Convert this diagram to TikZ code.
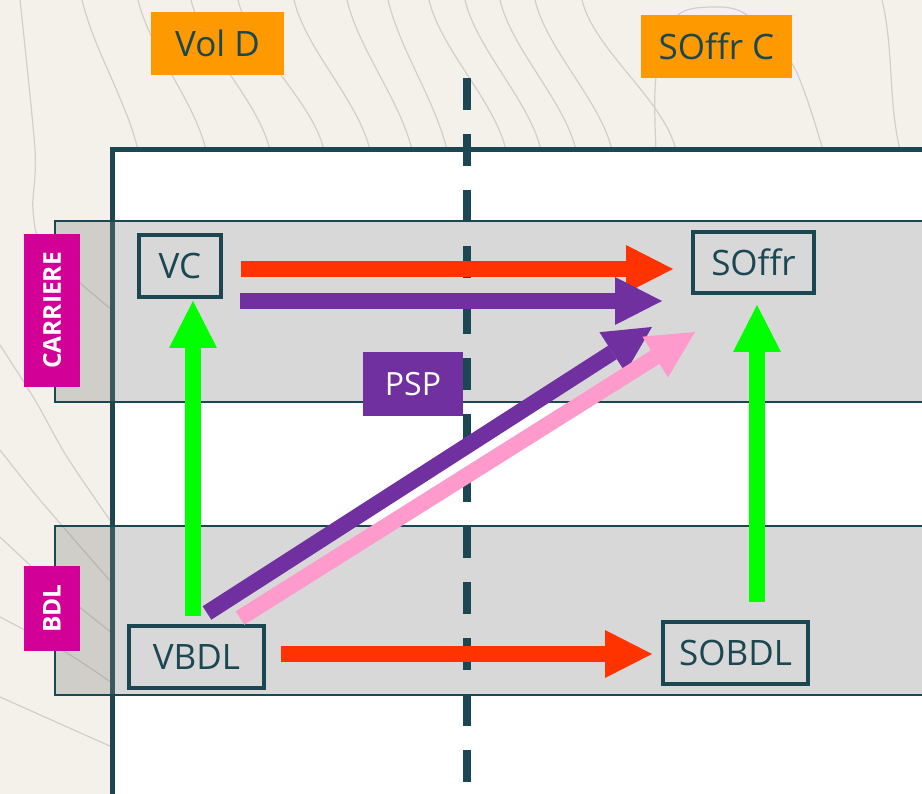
\documentclass[tikz,border=0pt]{standalone}
\usepackage{fontspec}
\setmainfont{Open Sans}
\usepackage{xcolor}
\usepackage{tikz}
\usetikzlibrary{arrows.meta}
\definecolor{bgbeige}{HTML}{F4F0EA}
\definecolor{contourgray}{HTML}{D2CEC8}
\definecolor{slate}{HTML}{1B4753}
\definecolor{headorange}{HTML}{FF9900}
\definecolor{rowmagenta}{HTML}{D20096}
\definecolor{psppurple}{HTML}{7030A0}
\definecolor{flowred}{HTML}{FF3300}
\definecolor{flowgreen}{HTML}{00FF00}
\definecolor{flowpink}{HTML}{FF9ACC}
\tikzstyle{contour} = [draw=contourgray, line width=1.2pt]
\tikzstyle{frame} = [fill=white, draw=slate, line width=5pt]
\tikzstyle{lane} = [fill=black!50, fill opacity=0.3, draw=slate, line width=1.5pt]
\tikzstyle{divider} = [draw=slate, line width=8pt, dash pattern=on 32pt off 24pt]
\tikzstyle{colhead} = [rectangle, fill=headorange, text=slate, font=\fontsize{35}{40}\selectfont, minimum height=63pt, inner sep=0pt]
\tikzstyle{rowhead} = [rectangle, fill=rowmagenta, text=white, font=\bfseries\fontsize{24.5}{28}\selectfont, rotate=90, minimum height=56pt, inner sep=0pt]
\tikzstyle{tag} = [rectangle, fill=psppurple, text=white, font=\fontsize{32}{38}\selectfont, minimum width=100pt, minimum height=64pt, inner sep=0pt]
\tikzstyle{entity} = [rectangle, draw=slate, line width=4pt, text=slate, font=\fontsize{35}{40}\selectfont, minimum height=62pt, inner sep=0pt]
\tikzstyle{arrow} = [line width=16pt, -{Triangle[length=47pt, width=48pt, line width=0pt]}]

\begin{document}
\begin{tikzpicture}[x=1pt, y=-1pt]
	\useasboundingbox (0,0) rectangle (922,794);
	\clip (0,0) rectangle (922,794);
	\fill [bgbeige] (0,0) rectangle (922,794);

	% background contour lines
	\foreach \a/\b in {82/138, 138/206, 191/270, 238/324, 294/370, 347/412, 388/447, 429/506, 465/541, 500/576, 535/612, 582/676, 882/900}
		\draw [contour] (\a,0) .. controls (\a+12,50) and (\b-12,100) .. (\b,150);
	\draw [contour] plot [smooth] coordinates {(656,150) (656,77) (676,17) (712,7) (747,15) (794,67) (823,150)};
	\draw [contour] plot [smooth] coordinates {(20,0) (35,150) (33,210) (45,250) (112,310)};
	\draw [contour] plot [smooth] coordinates {(0,345) (35,400) (67,457) (112,523)};
	\draw [contour] plot [smooth] coordinates {(0,450) (40,500) (112,583)};
	\draw [contour] plot [smooth] coordinates {(0,537) (50,583) (112,633)};
	\draw [contour] plot [smooth] coordinates {(0,617) (67,653) (112,683)};
	\draw [contour] plot [smooth] coordinates {(0,697) (112,747)};

	% frame and lanes
	\draw [frame] (112,150) rectangle (940,810);
	\draw [lane] (55,221) rectangle (940,402);
	\draw [lane] (55,526) rectangle (940,695);
	\draw [divider] (467,78) -- (467,782);

	% headers
	\node (vold) [colhead, minimum width=133pt] at (217.5,43.5) {Vol D};
	\node (soffrc) [colhead, minimum width=151pt] at (716.5,46.5) {SOffr C};
	\node (carriere) [rowhead, minimum width=153pt] at (52,310.5) {CARRIERE};
	\node (bdl) [rowhead, minimum width=85pt] at (52,608.5) {BDL};
	\node (psp) [tag] at (413,384) {PSP};

	% entities
	\node (vc) [entity, minimum width=82pt] at (180,266) {VC};
	\node (soffr) [entity, minimum width=121pt, minimum height=61pt] at (753.5,262.5) {SOffr};
	\node (vbdl) [entity, minimum width=135pt] at (196.5,657) {VBDL};
	\node (sobdl) [entity, minimum width=145pt] at (735.5,653) {SOBDL};

	\coordinate (redtop) at ([shift={(18,3)}]vc.east);
	\coordinate (purpletop) at ([shift={(17,35)}]vc.east);
	\coordinate (greenleft) at ([shift={(-3.5,-8)}]vbdl.north);
	\coordinate (greenright) at ([shift={(21.5,-18)}]sobdl.north);
	\coordinate (redbottom) at ([shift={(15,-3)}]vbdl.east);

	\draw [arrow, flowred, shorten >=18pt] (redtop) -- (redtop -| soffr.west);
	\draw [arrow, psppurple, shorten >=29pt] (purpletop) -- (purpletop -| soffr.west);
	\draw [arrow, flowgreen, shorten >=2pt] (greenleft) -- (greenleft |- vc.south);
	\draw [arrow, flowgreen, shorten >=10pt] (greenright) -- (greenright |- soffr.south);
	\draw [arrow, flowred, shorten >=9pt] (redbottom) -- (redbottom -| sobdl.west);
	\draw [arrow, psppurple] ([shift={(10.5,-11)}]vbdl.north) -- ([shift={(-39,32)}]soffr.south west);
	\draw [arrow, flowpink] ([shift={(43.5,-6)}]vbdl.north) -- ([shift={(4,37)}]soffr.south west);
\end{tikzpicture}
\end{document}
